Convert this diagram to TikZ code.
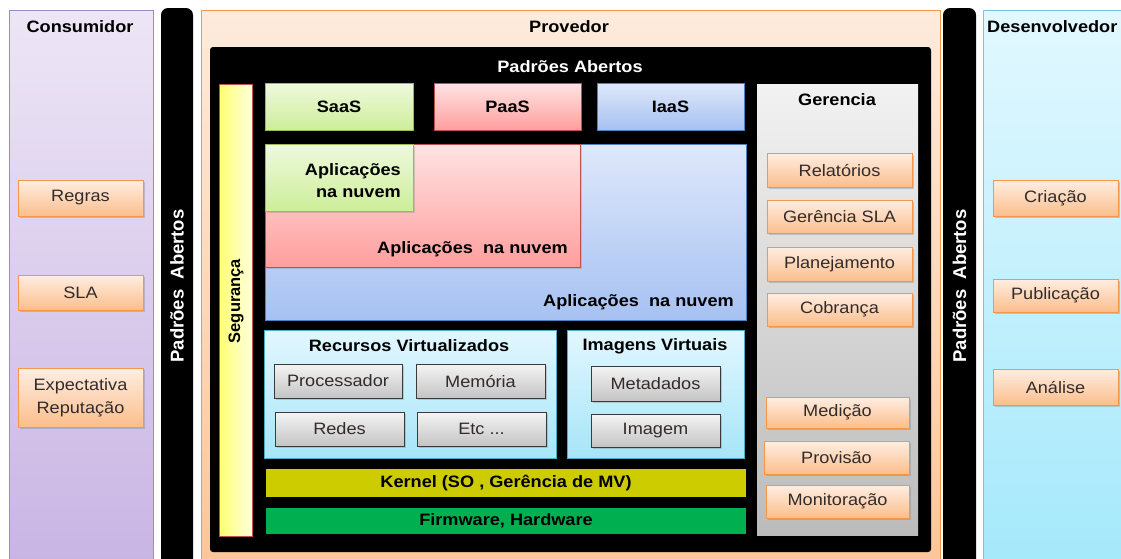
\documentclass[tikz,border=0pt]{standalone}
\usepackage{fontspec}
\setmainfont{Liberation Sans}[FakeStretch=1.1]
\newfontfamily\rotfont{Liberation Sans}
\usetikzlibrary{shadows}
\definecolor{consTop}{HTML}{EDE6F6}
\definecolor{consBot}{HTML}{C8B3E3}
\definecolor{consLine}{HTML}{9F88C6}
\definecolor{provTop}{HTML}{FDEBDD}
\definecolor{provBot}{HTML}{FBC597}
\definecolor{provLine}{HTML}{F79646}
\definecolor{devTop}{HTML}{E2F8FF}
\definecolor{devBot}{HTML}{A3E8FB}
\definecolor{devLine}{HTML}{7CC6DC}
\definecolor{oTop}{HTML}{FEEEE2}
\definecolor{oBot}{HTML}{FBBE8C}
\definecolor{oLine}{HTML}{F79646}
\definecolor{gTop}{HTML}{F4F4F4}
\definecolor{gBot}{HTML}{C4C4C4}
\definecolor{gLine}{HTML}{3A3A3A}
\definecolor{txtgray}{HTML}{332B2B}
\definecolor{saasTop}{HTML}{EFF9DE}
\definecolor{saasBot}{HTML}{CDEE98}
\definecolor{saasLine}{HTML}{9BBB59}
\definecolor{paasTop}{HTML}{FFE3E3}
\definecolor{paasBot}{HTML}{FF9E9E}
\definecolor{paasLine}{HTML}{C0504D}
\definecolor{iaasTop}{HTML}{DFE8FA}
\definecolor{iaasBot}{HTML}{A6C1F2}
\definecolor{iaasLine}{HTML}{4F81BD}
\definecolor{rvTop}{HTML}{E2F7FF}
\definecolor{rvBot}{HTML}{A6E5F8}
\definecolor{rvLine}{HTML}{4BACC6}
\definecolor{segLeft}{HTML}{FFFF70}
\definecolor{segRight}{HTML}{FFFFE0}
\definecolor{gerTop}{HTML}{F2F2F2}
\definecolor{gerBot}{HTML}{BBBBBB}
\definecolor{kernelC}{HTML}{CCCC00}
\definecolor{firmC}{HTML}{00B050}
\tikzset{
  base/.style={inner sep=0pt, outer sep=0pt, anchor=north west, align=center},
  panel/.style={base, line width=0.8pt},
  blackbar/.style={base, fill=black, rounded corners=7pt},
  titletxt/.style={font=\bfseries\fontsize{16.5}{20}\selectfont, text=black, inner sep=0pt},
  regtxt/.style={font=\fontsize{16.5}{23}\selectfont},
  obox/.style={base, regtxt, draw=oLine, line width=1pt, top color=oTop, bottom color=oBot,
    text=txtgray, drop shadow={shadow xshift=1.5pt, shadow yshift=-1.5pt, opacity=0.35}},
  gbox/.style={base, regtxt, draw=gLine, line width=1pt, top color=gTop, bottom color=gBot,
    text=txtgray, drop shadow={shadow xshift=1.5pt, shadow yshift=-1.5pt, opacity=0.35}},
  apptxt/.style={font=\bfseries\fontsize{16.5}{22}\selectfont, align=right, inner sep=0pt},
  rottxt/.style={rotate=90, font=\rotfont\bfseries\fontsize{18.5}{20}\selectfont, inner sep=0pt},
}
\begin{document}
\begin{tikzpicture}[x=1pt,y=-1pt]
\useasboundingbox (0,0) rectangle (1121,558);
\clip (0,0) rectangle (1121,558);
\fill[white] (0,0) rectangle (1121,558);
% outer panels
\node[panel, draw=consLine, top color=consTop, bottom color=consBot, minimum width=144pt, minimum height=570pt] (cons) at (9,10) {};
\node[blackbar, minimum width=32pt, minimum height=570pt] (bar1) at (161,8) {};
\node[panel, draw=provLine, top color=provTop, bottom color=provBot, minimum width=739pt, minimum height=570pt] (prov) at (201,10) {};
\node[blackbar, minimum width=33pt, minimum height=570pt] (bar2) at (943,8) {};
\node[panel, draw=devLine, top color=devTop, bottom color=devBot, minimum width=160pt, minimum height=570pt] (dev) at (983,10) {};
% titles
\node[titletxt] (consT) at (80,27) {Consumidor};
\node[titletxt] (provT) at (569,27) {Provedor};
\node[titletxt, anchor=west] (devT) at (987,27) {Desenvolvedor};
\node[rottxt, text=white] (bar1T) at (177,286) {Padrões\ \ Abertos};
\node[rottxt, text=white] (bar2T) at (959.5,286) {Padrões\ \ Abertos};
% inner black box
\node[base, fill=black, rounded corners=3pt, minimum width=721pt, minimum height=505pt] (inner) at (210,47) {};
\node[titletxt, text=white] (innerT) at (570,67) {Padrões Abertos};
% Seguranca
\node[base, draw=paasLine, line width=1pt, left color=segLeft, right color=segRight, minimum width=33pt, minimum height=452pt] (seg) at (219,84) {};
\node[rottxt, font=\rotfont\bfseries\fontsize{16.5}{18}\selectfont] (segT) at (236,301) {Segurança};
% service models
\node[base, draw=saasLine, line width=1pt, top color=saasTop, bottom color=saasBot, minimum width=148pt, minimum height=47pt, titletxt] (saas) at (265,83) {SaaS};
\node[base, draw=paasLine, line width=1pt, top color=paasTop, bottom color=paasBot, minimum width=147pt, minimum height=47pt, titletxt] (paas) at (434,83) {PaaS};
\node[base, draw=iaasLine, line width=1pt, top color=iaasTop, bottom color=iaasBot, minimum width=147pt, minimum height=47pt, titletxt] (iaas) at (597,83) {IaaS};
% application layers
\node[base, draw=iaasLine, line width=1pt, top color=iaasTop, bottom color=iaasBot, minimum width=481pt, minimum height=176pt] (blueapp) at (265,144) {};
\node[base, draw=paasLine, line width=1pt, top color=paasTop, bottom color=paasBot, minimum width=315pt, minimum height=123pt, drop shadow={shadow xshift=1.5pt, shadow yshift=-1.5pt, opacity=0.3}] (redapp) at (265,144) {};
\node[base, draw=saasLine, line width=1pt, top color=saasTop, bottom color=saasBot, minimum width=148pt, minimum height=67pt, drop shadow={shadow xshift=1.5pt, shadow yshift=-1.5pt, opacity=0.3}] (greenapp) at (265,144) {};
\node[apptxt, anchor=east] (greenT) at (401,181) {Aplicações\\na nuvem};
\node[apptxt, anchor=east] (redT) at (568,249) {Aplicações\ \ na nuvem};
\node[apptxt, anchor=east] (blueT) at (734,302) {Aplicações\ \ na nuvem};
% virtual resources
\node[base, draw=rvLine, line width=1pt, top color=rvTop, bottom color=rvBot, minimum width=292pt, minimum height=128pt] (rv) at (264,330) {};
\node[base, draw=rvLine, line width=1pt, top color=rvTop, bottom color=rvBot, minimum width=177pt, minimum height=128pt] (iv) at (567,330) {};
\node[titletxt] (rvT) at (409,346) {Recursos Virtualizados};
\node[titletxt] (ivT) at (655,346) {Imagens Virtuais};
\node[gbox, minimum width=128pt, minimum height=34pt] (proc) at (274,364) {Processador};
\node[gbox, minimum width=129pt, minimum height=34pt] (mem) at (416,364) {Memória};
\node[gbox, minimum width=129pt, minimum height=34pt] (redes) at (275,412) {Redes};
\node[gbox, minimum width=129pt, minimum height=34pt] (etc) at (417,412) {Etc ...};
\node[gbox, minimum width=129pt, minimum height=35pt] (meta) at (591,366) {Metadados};
\node[gbox, minimum width=129pt, minimum height=33pt] (img) at (591,414) {Imagem};
% kernel / firmware
\node[base, fill=kernelC, minimum width=480pt, minimum height=28pt, titletxt] (kernel) at (266,469) {Kernel (SO , Gerência de MV)};
\node[base, fill=firmC, minimum width=480pt, minimum height=26pt, titletxt] (firm) at (266,508) {Firmware, Hardware};
% Gerencia
\node[base, top color=gerTop, bottom color=gerBot, minimum width=161pt, minimum height=451pt] (ger) at (757,84) {};
\node[titletxt] (gerT) at (837,100) {Gerencia};
\node[obox, minimum width=145pt, minimum height=34pt] (rel) at (767,153) {Relatórios};
\node[obox, minimum width=145pt, minimum height=33pt] (gsla) at (767,200) {Gerência SLA};
\node[obox, minimum width=145pt, minimum height=34pt] (plan) at (767,247) {Planejamento};
\node[obox, minimum width=145pt, minimum height=33pt] (cob) at (767,293) {Cobrança};
\node[obox, minimum width=143pt, minimum height=31pt] (med) at (766,397) {Medição};
\node[obox, minimum width=145pt, minimum height=33pt] (provis) at (764,441) {Provisão};
\node[obox, minimum width=143pt, minimum height=33pt] (mon) at (766,485) {Monitoração};
% Consumidor boxes
\node[obox, minimum width=125pt, minimum height=36pt] (regras) at (18,180) {Regras};
\node[obox, minimum width=125pt, minimum height=35pt] (sla) at (18,275) {SLA};
\node[obox, minimum width=125pt, minimum height=59pt] (expec) at (18,368) {Expectativa\\Reputação};
% Desenvolvedor boxes
\node[obox, minimum width=125pt, minimum height=36pt] (criacao) at (993,180) {Criação};
\node[obox, minimum width=125pt, minimum height=33pt] (pub) at (993,279) {Publicação};
\node[obox, minimum width=125pt, minimum height=36pt] (analise) at (993,369) {Análise};
\end{tikzpicture}
\end{document}
